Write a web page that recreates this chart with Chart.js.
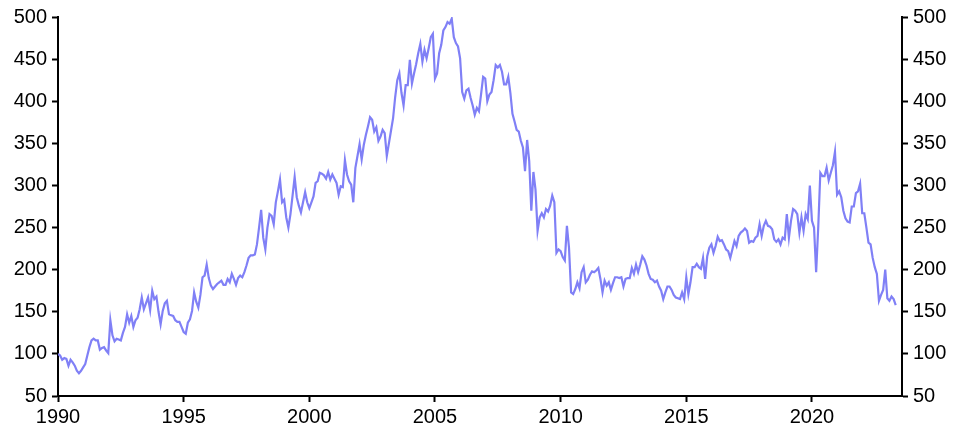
<!DOCTYPE html>
<html>
<head>
<meta charset="utf-8">
<script src="https://cdn.jsdelivr.net/npm/chart.js@4"></script>
<style>
  html, body { margin: 0; padding: 0; background: #fff; }
  #wrap { width: 963px; height: 431px; }
</style>
</head>
<body>
<div id="wrap"><canvas id="chart" width="963" height="431"></canvas></div>
<script>
// monthly index, Jan 1990 = 100
const startYear = 1990;
const xTicks = [1990, 1995, 2000, 2005, 2010, 2015, 2020];
const yTicks = [50, 100, 150, 200, 250, 300, 350, 400, 450, 500];

const vals1990s = [
  100, 98, 93, 95, 94, 86, 93, 90, 86, 80, 77, 80,
  84, 88, 98, 108, 116, 118, 116, 116, 105, 107, 108, 104,
  101, 140, 122, 115, 118, 117, 116, 125, 132, 147, 137, 145,
  132, 140, 143, 153, 167, 153, 160, 167, 152, 175, 165, 168,
  150, 135, 151, 160, 163, 147, 146, 145, 140, 138, 138, 132,
  126, 124, 137, 141, 151, 173, 162, 155, 170, 191, 193, 206,
  190, 181, 177, 180, 183, 185, 187, 182, 182, 189, 185, 195,
  189, 182, 190, 193, 191, 197, 205, 214, 217, 217, 218, 230,
  250, 271, 238, 224, 250, 266, 264, 254, 280, 293, 307, 280,
  283, 262, 250, 266, 288, 310, 286, 276, 268, 280, 292, 280
];
const vals2000s = [
  273, 280, 287, 303, 305, 315, 314, 312, 308, 316, 307, 313,
  308, 303, 289, 299, 298, 330, 313, 305, 301, 280, 321, 335,
  349, 331, 348, 360, 370, 381, 378, 364, 369, 353, 358, 366,
  362, 335, 350, 365, 380, 405, 425, 433, 410, 395, 419, 419,
  449, 421, 433, 444, 457, 468, 447, 461, 451, 463, 476, 480,
  427, 433, 457, 467, 484, 488, 494, 492, 498, 476, 469, 465,
  451, 411, 403, 413, 415, 404, 395, 384, 392, 388, 408, 429,
  427, 400, 408, 411, 425, 443, 440, 443, 435, 420, 420, 429,
  410, 385, 376, 366, 364, 353, 345, 317, 354, 329, 270, 316,
  295, 246, 262, 267, 262, 272, 269, 276, 288, 280, 220, 224
];
const vals2010s = [
  222, 215, 211, 252, 226, 173, 171, 177, 185, 178, 197, 203,
  185, 188, 194, 198, 197, 199, 202, 189, 173, 187, 181, 185,
  176, 184, 191, 191, 190, 191, 180, 189, 190, 190, 202, 195,
  206, 197, 206, 216, 212, 205, 195, 189, 188, 185, 187, 180,
  175, 165, 173, 180, 180, 176, 170, 167, 166, 165, 173, 165,
  191, 171, 185, 203, 203, 207, 203, 201, 214, 189, 216, 226,
  230, 220, 228, 239, 234, 235, 230, 224, 222, 214, 224, 234,
  228, 240, 244, 246, 249, 246, 232, 234, 233, 238, 240, 254,
  240, 252, 258, 252, 251, 248, 236, 233, 236, 230, 238, 236,
  266, 238, 258, 272, 270, 266, 244, 262, 246, 266, 260, 300
];
const vals2020s = [
  258, 250, 197, 250, 315, 311, 311, 321, 306, 315, 324, 340,
  289, 293, 286, 270, 261, 257, 256, 275, 275, 291, 293, 302,
  267, 267, 250, 232, 230, 214, 203, 195, 163, 170, 176, 200,
  166, 163, 168, 165, 158
];

const series = [...vals1990s, ...vals2000s, ...vals2010s, ...vals2020s];
const points = series.map((v, i) => ({ x: startYear + i / 12, y: v }));

const tickFont = { family: "'Liberation Sans', Arial, sans-serif", size: 20 };

function axisY(position, width) {
  return {
    position,
    min: 50,
    max: 500,
    afterBuildTicks: s => { s.ticks = yTicks.map(v => ({ value: v })); },
    afterFit: s => { s.width = width; },
    ticks: { font: tickFont, color: '#000', padding: 5 },
    grid: { drawOnChartArea: false, drawTicks: true, tickLength: 6, tickColor: '#000', tickWidth: 2 },
    border: { color: '#000', width: 2 }
  };
}

new Chart(document.getElementById('chart'), {
  type: 'line',
  data: {
    datasets: [{
      data: points,
      borderColor: 'rgb(128,128,246)',
      borderWidth: 2.2,
      pointRadius: 0,
      tension: 0,
      yAxisID: 'y'
    }]
  },
  options: {
    responsive: false,
    animation: false,
    devicePixelRatio: 1,
    layout: { padding: { top: 15, left: 0, right: 0, bottom: 0 } },
    plugins: { legend: { display: false }, tooltip: { enabled: false } },
    scales: {
      x: {
        type: 'linear',
        min: startYear,
        max: startYear + 403 / 12,
        afterBuildTicks: s => { s.ticks = xTicks.map(v => ({ value: v })); },
        afterFit: s => { s.height = 35; },
        ticks: { font: tickFont, color: '#000', padding: 3, maxRotation: 0, autoSkip: false,
                 callback: v => String(v) },
        grid: { drawOnChartArea: false, drawTicks: true, tickLength: 6, tickColor: '#000', tickWidth: 2 },
        border: { color: '#000', width: 2 }
      },
      y: axisY('left', 58),
      y2: axisY('right', 61)
    }
  }
});
</script>
</body>
</html>
